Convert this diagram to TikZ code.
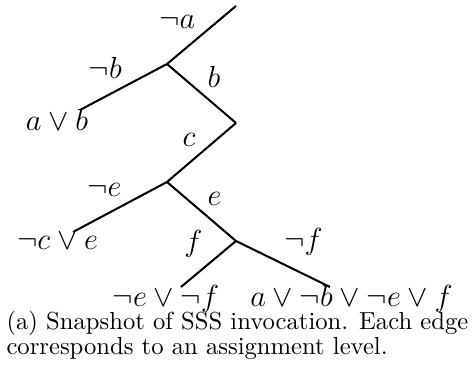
\documentclass[tikz,border=0pt]{standalone}
\usetikzlibrary{positioning}
\begin{document}
\begin{tikzpicture}[x=0.3937pt, y=-0.3937pt, edge/.style={black, thick}, lbl/.style={font=\large, inner sep=2pt}, leaf/.style={font=\large, anchor=base, inner sep=0pt}]
        \useasboundingbox (0,0) rectangle (472,377);
        % tree points
        \coordinate (top) at (236,6);
        \coordinate (na) at (167,64);
        \coordinate (lb) at (80,110);
        \coordinate (nb) at (236,123);
        \coordinate (nc) at (167,182);
        \coordinate (le) at (73,232);
        \coordinate (ne) at (236,241);
        \coordinate (lf) at (181,287);
        \coordinate (lnf) at (330,287);
        % edges
        \draw[edge] (top) -- node[lbl, midway, above left] {$\neg a$} (na);
        \draw[edge] (na) -- node[lbl, pos=0.45, above left] {$\neg b$} (lb);
        \draw[edge] (na) -- node[lbl, midway, above right] {$b$} (nb);
        \draw[edge] (nb) -- node[lbl, midway, above left] {$c$} (nc);
        \draw[edge] (nc) -- node[lbl, pos=0.42, above left] {$\neg e$} (le);
        \draw[edge] (nc) -- node[lbl, midway, above right] {$e$} (ne);
        \draw[edge] (ne) -- node[lbl, midway, above left] {$f$} (lf);
        \draw[edge] (ne) -- node[lbl, pos=0.45, above right] {$\neg f$} (lnf);
        % clauses at the leaves
        \node[name=cab, leaf] at (57,131) {$a \vee b$};
        \node[name=cce, leaf] at (57.5,250) {$\neg c \vee e$};
        \node[name=cef, leaf] at (166,307) {$\neg e \vee \neg f$};
        \node[name=cabef, leaf] at (351.5,307) {$a \vee \neg b \vee \neg e \vee f$};
        % caption
        \node[name=cap, anchor=north west, inner sep=0pt, align=left, font=\fontsize{9.7}{9.6}\selectfont] at (6,311) {(a) Snapshot of SSS invocation. Each edge\\corresponds to an assignment level.};
\end{tikzpicture}
\end{document}
